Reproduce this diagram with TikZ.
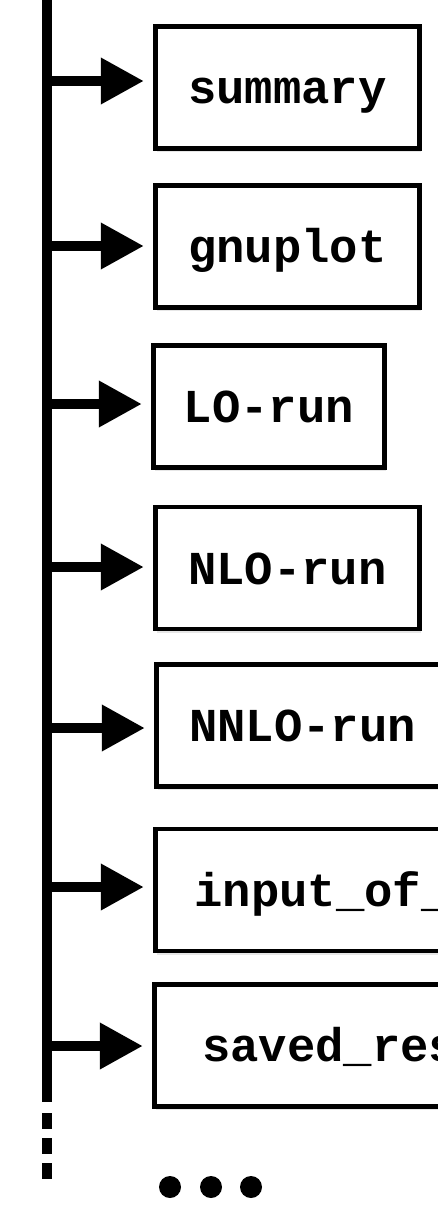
\documentclass[tikz,border=0pt]{standalone}
\usepackage{fontspec}
\setmonofont{Liberation Mono}
\usetikzlibrary{arrows.meta,shadows}

\begin{document}
\begin{tikzpicture}[
  box/.style={shape=rectangle, draw=black, line width=3.5pt, fill=white,
    minimum height=3.05cm, text height=0.8cm, text depth=0pt, inner sep=0pt,
    font=\fontsize{33.6}{40}\selectfont\ttfamily\bfseries,
    drop shadow={shadow xshift=1pt, shadow yshift=-2.5pt, opacity=0.2}},
  spine/.style={line width=7.1pt},
  branch/.style={line width=7.1pt, -{Triangle[length=1.075cm, width=1.1cm]}, shorten >=0.23cm}]
\useasboundingbox (0,0) rectangle (10.95,-30.25);
% directories
\node[box, minimum width=6.6cm] (summary) at (7.1875,-2.1875) {summary};
\node[box, minimum width=6.6cm] (gnuplot) at (7.1875,-6.1625) {gnuplot};
\node[box, minimum width=5.775cm] (LO) at (6.725,-10.1625) {LO-run};
\node[box, minimum width=6.6cm] (NLO) at (7.1875,-14.2) {NLO-run};
\node[box, minimum width=7.3cm] (NNLO) at (7.5625,-18.1375) {NNLO-run};
\node[box, minimum width=8.325cm] (input) at (8.05,-22.25) {input\_of\_};
\node[box, minimum width=8.765cm] (saved) at (8.245,-26.1375) {saved\_res};
% tree line
\coordinate (top) at (1.175,0.2);
\coordinate (bottom) at (1.175,-27.55);
\coordinate (more) at (1.175,-27.825);
\coordinate (end) at (1.175,-29.475);
\draw[spine] (top) -- (bottom);
\draw[spine, dash pattern=on 0.4cm off 0.225cm] (more) -- (end);
\foreach \name/\y in {summary/2.025, gnuplot/6.15, LO/10.1, NLO/14.175, NNLO/18.2, input/22.175, saved/26.15} {
  \coordinate (j-\name) at (1.175,-\y);
  \draw[branch] (j-\name) -- (j-\name -| \name.west);
}
\foreach \x [count=\i] in {4.25,5.275,6.275}
  \node[shape=circle, fill=black, minimum size=0.55cm, inner sep=0pt] (dot\i) at (\x,-29.675) {};
\end{tikzpicture}
\end{document}
